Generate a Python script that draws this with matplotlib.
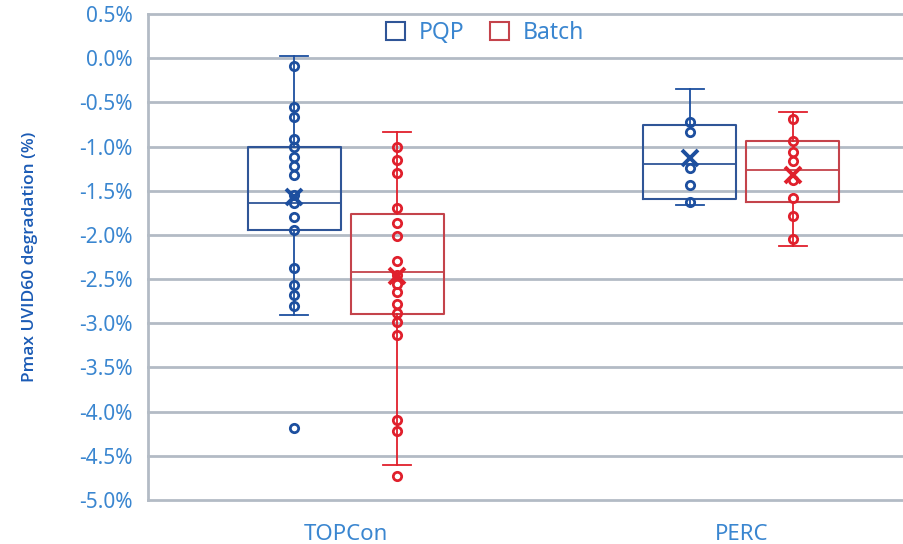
import matplotlib
matplotlib.use("Agg")
import matplotlib.pyplot as plt
from matplotlib.patches import Patch

plt.rcParams['font.family'] = ['Noto Sans', 'DejaVu Sans']

categories = ["TOPCon", "PERC"]
series_names = ["PQP", "Batch"]

# individual measurements (%)
pqp_topcon = [-0.09, -0.55, -0.66, -0.92, -1.01, -1.12, -1.22, -1.32, -1.55, -1.64,
              -1.80, -1.95, -2.38, -2.57, -2.68, -2.81, -4.19]
batch_topcon = [-1.00, -1.15, -1.30, -1.69, -1.86, -2.01, -2.29, -2.45, -2.55, -2.65,
                -2.78, -2.88, -2.99, -3.13, -4.10, -4.22, -4.73]
pqp_perc = [-0.72, -0.84, -1.24, -1.43, -1.63]
batch_perc = [-0.69, -0.94, -1.06, -1.16, -1.38, -1.58, -1.79, -2.05]

# box statistics (TOPCon, PERC)
pqp_whislo = [-2.91, -1.66]
pqp_q1 = [-1.95, -1.59]
pqp_med = [-1.64, -1.20]
pqp_q3 = [-1.00, -0.76]
pqp_whishi = [0.03, -0.35]
pqp_mean = [-1.57, -1.13]

batch_whislo = [-4.60, -2.12]
batch_q1 = [-2.90, -1.63]
batch_med = [-2.42, -1.27]
batch_q3 = [-1.76, -0.94]
batch_whishi = [-0.83, -0.61]
batch_mean = [-2.46, -1.32]

yticks = [0.5, 0.0, -0.5, -1.0, -1.5, -2.0, -2.5, -3.0, -3.5, -4.0, -4.5, -5.0]

pqp_col = "#1d4f9f"
pqp_edge = "#2f5597"
batch_col = "#e0202c"
batch_edge = "#c4434b"
grid_col = "#b3bbc5"
tick_col = "#3a86d0"
label_col = "#1b5bb5"

fig = plt.figure(figsize=(9.04, 5.44), dpi=100)
ax = fig.add_axes([148/904, 1-500/544, (939-148)/904, 486/544])

def stats(lo, q1, med, q3, hi, mean):
    return [dict(whislo=lo[i], q1=q1[i], med=med[i], q3=q3[i], whishi=hi[i],
                 mean=mean[i], fliers=[]) for i in range(len(lo))]

off = 0.13
width = 0.235
groups = [
    (stats(pqp_whislo, pqp_q1, pqp_med, pqp_q3, pqp_whishi, pqp_mean), -off, pqp_col, pqp_edge,
     [pqp_topcon, pqp_perc], pqp_mean),
    (stats(batch_whislo, batch_q1, batch_med, batch_q3, batch_whishi, batch_mean), off, batch_col, batch_edge,
     [batch_topcon, batch_perc], batch_mean),
]
for st, o, col, edge, pts, means in groups:
    pos = [i + o for i in range(len(categories))]
    ax.bxp(st, positions=pos, widths=width, showmeans=False, showfliers=False,
           capwidths=0.07, patch_artist=False,
           boxprops=dict(color=edge, linewidth=1.5),
           whiskerprops=dict(color=col, linewidth=1.3),
           capprops=dict(color=col, linewidth=1.3),
           medianprops=dict(color=edge, linewidth=1.3))
    for i, p in enumerate(pts):
        ax.plot([pos[i]] * len(p), p, linestyle='none', marker='o', markersize=6,
                markerfacecolor='none', markeredgecolor=col, markeredgewidth=2.0, zorder=4)
        ax.plot([pos[i]], [means[i]], linestyle='none', marker='x', markersize=12,
                markeredgecolor=col, markeredgewidth=2.8, zorder=5)

ax.set_xlim(-0.5, 1.5)
ax.set_ylim(-5.0, 0.5)
ax.set_yticks(yticks)
ax.set_yticklabels([f"{v:.1f}%" for v in yticks])
ax.set_xticks(range(len(categories)))
ax.set_xticklabels(categories)
ax.tick_params(axis='y', length=0, pad=11, labelsize=15, labelcolor=tick_col)
ax.tick_params(axis='x', length=0, pad=17, labelsize=16, labelcolor=tick_col)

ax.yaxis.grid(True, color=grid_col, linewidth=2)
ax.set_axisbelow(True)
for gl in ax.get_ygridlines():
    gl.set_clip_on(False)
for s in ["top", "right", "bottom"]:
    ax.spines[s].set_visible(False)
ax.spines["left"].set_color(grid_col)
ax.spines["left"].set_linewidth(2)

fig.text(30/904, 1-257/544, "Pmax UVID60 degradation (%)", rotation=90,
         ha='center', va='center', fontsize=12.5, color=label_col, fontweight='semibold',
         family=['Open Sans', 'Roboto', 'DejaVu Sans'])

handles = [Patch(facecolor='white', edgecolor=pqp_edge, linewidth=1.5),
           Patch(facecolor='white', edgecolor=batch_edge, linewidth=1.5)]
fig.legend(handles, series_names, loc='center', bbox_to_anchor=(485/904, 1-33/544),
           ncol=2, frameon=False, fontsize=16.5, labelcolor=tick_col,
           handlelength=0.85, handleheight=0.85, handletextpad=0.6, columnspacing=1.1)

fig.savefig("out.png", dpi=100)
